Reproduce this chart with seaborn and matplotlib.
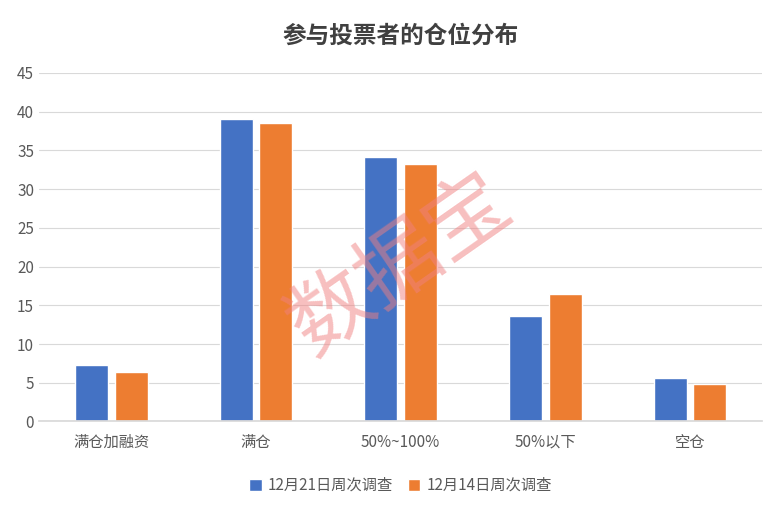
import matplotlib
matplotlib.use("Agg")
import matplotlib.pyplot as plt
import seaborn as sns
import pandas as pd

categories = ["满仓加融资", "满仓", "50%~100%", "50%以下", "空仓"]
series_names = ["12月21日周次调查", "12月14日周次调查"]
dec21 = [7.3, 39.1, 34.1, 13.6, 5.6]
dec14 = [6.4, 38.5, 33.3, 16.5, 4.8]

df = pd.DataFrame({
    "cat": categories * 2,
    "series": [series_names[0]] * 5 + [series_names[1]] * 5,
    "value": dec21 + dec14,
})

sns.set_theme(style="white")
plt.rcParams['font.family'] = ['Noto Sans CJK SC', 'DejaVu Sans']

fig, ax = plt.subplots(figsize=(7.78, 5.14), dpi=100)
sns.barplot(data=df, x="cat", y="value", hue="series", saturation=1,
            palette=["#4472C4", "#ED7D31"], width=0.55, gap=0.17, ax=ax)
ax.set_ylim(0, 45)
ax.set_yticks(range(0, 46, 5))
ax.yaxis.grid(True, color="#D9D9D9", linewidth=0.8)
ax.set_axisbelow(True)
for s in ["top", "right", "left"]:
    ax.spines[s].set_visible(False)
ax.spines["bottom"].set_color("#D9D9D9")
ax.tick_params(axis="both", labelsize=11, colors="#595959", length=0)
ax.tick_params(axis="x", pad=9)
ax.set_xlabel("")
ax.set_ylabel("")
ax.set_title("参与投票者的仓位分布", fontsize=17, fontweight="bold", color="#404040", pad=22)
ax.legend(loc="upper center", bbox_to_anchor=(0.5, -0.12), ncol=2, frameon=False,
          fontsize=11, handlelength=0.8, handleheight=0.8, labelcolor="#595959",
          columnspacing=1.0, handletextpad=0.4)
ax.text(0.5, 0.45, "数据宝", transform=ax.transAxes, fontsize=60, color="#F08080",
        alpha=0.5, rotation=35, ha="center", va="center")
fig.subplots_adjust(left=0.05, right=0.98, top=0.858, bottom=0.18)
fig.savefig("out.png", dpi=100)
